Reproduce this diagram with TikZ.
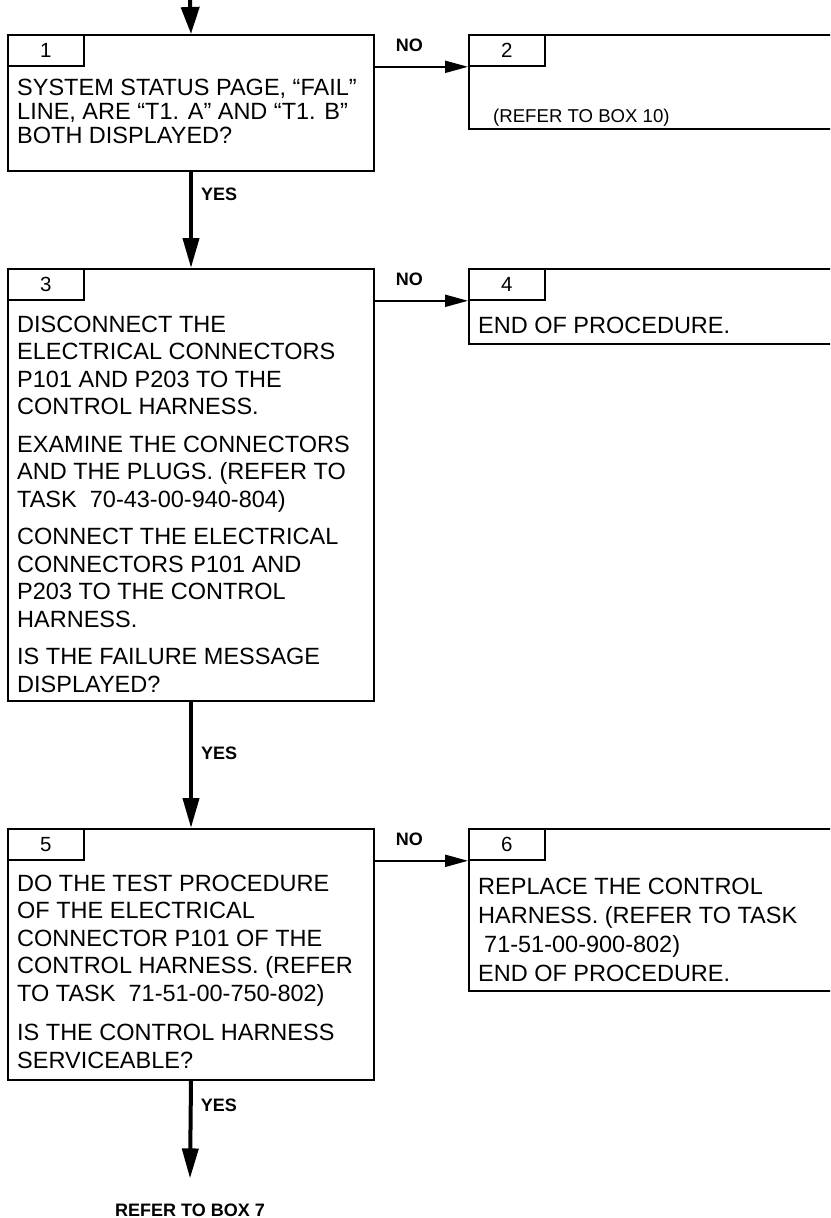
\documentclass[tikz,border=0pt]{standalone}
\usepackage{fontspec}
\setmainfont{Liberation Sans}
\usetikzlibrary{arrows.meta,positioning}

\begin{document}
\begin{tikzpicture}[
  x=1pt, y=-1pt,
  box/.style={draw, line width=2pt, anchor=north west, inner sep=0pt},
  numtab/.style={draw, line width=1.8pt, anchor=north west, inner sep=0pt, minimum width=76pt, minimum height=31pt, font=\fontsize{20.5}{20.5}\selectfont},
  body/.style={anchor=base west, inner sep=0pt, align=left, font=\fontsize{23.5}{27.5}\selectfont},
  lbl/.style={inner sep=0pt, font=\bfseries\fontsize{18}{18}\selectfont},
  yesarrow/.style={-{Triangle[length=30pt,width=16pt]}, line width=4pt},
  noarrow/.style={-{Triangle[length=23pt,width=12pt]}, line width=2pt}
]
\useasboundingbox (0,0) rectangle (830,1218);
\clip (0,0) rectangle (830,1218);

% Boxes, left column
\node[box, minimum width=366pt, minimum height=136pt] (b1) at (7,34) {};
\node[box, minimum width=366pt, minimum height=432pt] (b3) at (7,268) {};
\node[box, minimum width=366pt, minimum height=251pt] (b5) at (7,828) {};

% Boxes, right column (run past the edge)
\node[box, minimum width=400pt, minimum height=94pt] (b2) at (468,34) {};
\node[box, minimum width=400pt, minimum height=75pt] (b4) at (468,268) {};
\node[box, minimum width=400pt, minimum height=162pt] (b6) at (468,828) {};

% Number tabs
\node[numtab] (n1) at (b1.north west) {1};
\node[numtab] (n2) at (b2.north west) {2};
\node[numtab] (n3) at (b3.north west) {3};
\node[numtab] (n4) at (b4.north west) {4};
\node[numtab] (n5) at (b5.north west) {5};
\node[numtab] (n6) at (b6.north west) {6};

% Texts (placed at the baseline of their last line)
\node[body, font=\fontsize{23.5}{24}\selectfont] (x1) at (17,143) {SYSTEM STATUS PAGE, “FAIL”\\LINE, ARE “T1. A” AND “T1. B”\\BOTH DISPLAYED?};
\node[body, font=\fontsize{18.6}{22}\selectfont] (x2) at (493,122) {(REFER TO BOX 10)};
\node[body] (x3) at (17,692) {DISCONNECT THE\\ELECTRICAL CONNECTORS\\P101 AND P203 TO THE\\CONTROL HARNESS.\\[10pt]
  EXAMINE THE CONNECTORS\\AND THE PLUGS. (REFER TO\\TASK\ \ 70-43-00-940-804)\\[10pt]
  CONNECT THE ELECTRICAL\\CONNECTORS P101 AND\\P203 TO THE CONTROL\\HARNESS.\\[10pt]
  IS THE FAILURE MESSAGE\\DISPLAYED?};
\node[body] (x4) at (478,333) {END OF PROCEDURE.};
\node[body] (x5) at (17,1068) {DO THE TEST PROCEDURE\\OF THE ELECTRICAL\\CONNECTOR P101 OF THE\\CONTROL HARNESS. (REFER\\TO TASK\ \ 71-51-00-750-802)\\[12pt]
  IS THE CONTROL HARNESS\\SERVICEABLE?};
\node[body, font=\fontsize{23.5}{29}\selectfont] (x6) at (478,981) {REPLACE THE CONTROL\\HARNESS. (REFER TO TASK\\\hspace*{6pt}71-51-00-900-802)\\END OF PROCEDURE.};

% End label
\node[lbl] (ref7) at (190,1210) {REFER TO BOX 7};
\coordinate (start) at (190,0);

% YES connectors
\draw[-{Triangle[length=27pt,width=18pt]}, line width=4pt] (start) -- (b1.north);
\draw[yesarrow] (b1.south) -- node[lbl, pos=0.235, anchor=west, xshift=8pt] {YES} (b3.north);
\draw[yesarrow] (b3.south) -- node[lbl, pos=0.41, anchor=west, xshift=8pt] {YES} (b5.north);
\draw[yesarrow] (b5.south) -- node[lbl, pos=0.245, anchor=west, xshift=8pt] {YES} ([yshift=25pt]ref7.north);

% NO connectors
\draw[noarrow] (b1.east |- n1.south) -- node[lbl, pos=0.37, anchor=base, yshift=15pt] {NO} (n1.south -| b2.west);
\draw[noarrow] (b3.east |- n3.south) -- node[lbl, pos=0.37, anchor=base, yshift=15pt] {NO} (n3.south -| b4.west);
\draw[noarrow] (b5.east |- n5.south) -- node[lbl, pos=0.37, anchor=base, yshift=15pt] {NO} (n5.south -| b6.west);

\end{tikzpicture}
\end{document}
